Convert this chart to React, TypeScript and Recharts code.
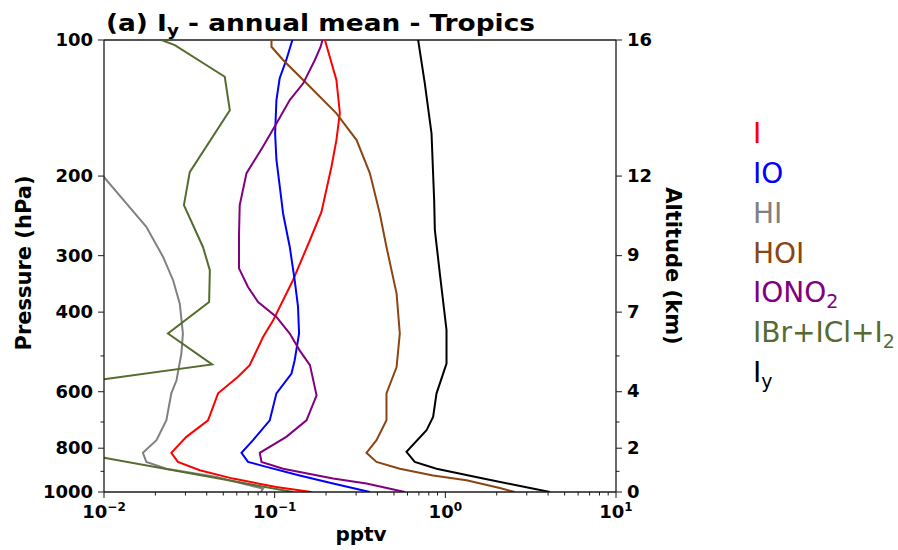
import React from "react";
import { ComposedChart, Line, XAxis, YAxis, ReferenceLine, Legend } from "recharts";

type Pt = { x: number; p: number };

// mixing ratio (pptv) against pressure (hPa)
const iodine: Pt[] = [
  { x: 0.197, p: 100 }, { x: 0.23, p: 122.6 }, { x: 0.241, p: 145 }, { x: 0.23, p: 166.5 },
  { x: 0.215, p: 191 }, { x: 0.188, p: 240 }, { x: 0.161, p: 277 }, { x: 0.128, p: 340 },
  { x: 0.098, p: 417 }, { x: 0.0855, p: 454 }, { x: 0.0714, p: 524 }, { x: 0.061, p: 556 },
  { x: 0.0466, p: 605 }, { x: 0.0407, p: 694 }, { x: 0.0304, p: 755 }, { x: 0.0248, p: 819 },
  { x: 0.0271, p: 858 }, { x: 0.0364, p: 895 }, { x: 0.057, p: 934 }, { x: 0.102, p: 975 },
  { x: 0.164, p: 1000 },
];

const iodineOxide: Pt[] = [
  { x: 0.127, p: 100 }, { x: 0.117, p: 110.7 }, { x: 0.107, p: 121.5 }, { x: 0.1024, p: 135.8 },
  { x: 0.1006, p: 161 }, { x: 0.1024, p: 184 }, { x: 0.1096, p: 226 }, { x: 0.112, p: 242 },
  { x: 0.1226, p: 287 }, { x: 0.131, p: 340 }, { x: 0.137, p: 389 }, { x: 0.139, p: 446 },
  { x: 0.131, p: 511 }, { x: 0.1255, p: 547 }, { x: 0.1024, p: 605 }, { x: 0.0936, p: 694 },
  { x: 0.0747, p: 768 }, { x: 0.0639, p: 819 }, { x: 0.0698, p: 858 }, { x: 0.0895, p: 880 },
  { x: 0.14, p: 919 }, { x: 0.22, p: 958 }, { x: 0.361, p: 1000 },
];

const hydrogenIodide: Pt[] = [
  { x: 0.0088, p: 190 }, { x: 0.0134, p: 229 }, { x: 0.0177, p: 259 }, { x: 0.0222, p: 302 },
  { x: 0.0254, p: 340 }, { x: 0.0278, p: 383 }, { x: 0.029, p: 446 }, { x: 0.0284, p: 494 },
  { x: 0.0266, p: 566 }, { x: 0.0248, p: 605 }, { x: 0.0232, p: 694 }, { x: 0.0203, p: 768 },
  { x: 0.0169, p: 819 }, { x: 0.0177, p: 858 }, { x: 0.0232, p: 888 }, { x: 0.0456, p: 926 },
  { x: 0.0855, p: 983 }, { x: 0.083, p: 1000 },
];

const hoi: Pt[] = [
  { x: 0.0958, p: 100 }, { x: 0.0958, p: 103.5 }, { x: 0.112, p: 110.7 }, { x: 0.1536, p: 124.7 },
  { x: 0.23, p: 145.3 }, { x: 0.302, p: 166.5 }, { x: 0.361, p: 197 }, { x: 0.395, p: 226 },
  { x: 0.413, p: 242 }, { x: 0.452, p: 287 }, { x: 0.518, p: 364 }, { x: 0.541, p: 446 },
  { x: 0.518, p: 529 }, { x: 0.452, p: 605 }, { x: 0.452, p: 694 }, { x: 0.395, p: 768 },
  { x: 0.345, p: 819 }, { x: 0.395, p: 858 }, { x: 0.541, p: 888 }, { x: 0.848, p: 919 },
  { x: 1.33, p: 942 }, { x: 2.085, p: 980 }, { x: 2.55, p: 1000 },
];

const iono2: Pt[] = [
  { x: 0.1905, p: 100 }, { x: 0.186, p: 103.5 }, { x: 0.172, p: 110.7 }, { x: 0.147, p: 124.7 },
  { x: 0.1226, p: 135.8 }, { x: 0.1024, p: 153 }, { x: 0.0855, p: 172 }, { x: 0.0684, p: 197 },
  { x: 0.0624, p: 232 }, { x: 0.0618, p: 270 }, { x: 0.0618, p: 320 }, { x: 0.0698, p: 352 },
  { x: 0.08, p: 380 }, { x: 0.1024, p: 410 }, { x: 0.1226, p: 446 }, { x: 0.14, p: 486 },
  { x: 0.161, p: 524 }, { x: 0.176, p: 611 }, { x: 0.1536, p: 694 }, { x: 0.117, p: 755 },
  { x: 0.0818, p: 819 }, { x: 0.0837, p: 858 }, { x: 0.112, p: 888 }, { x: 0.22, p: 934 },
  { x: 0.345, p: 958 }, { x: 0.579, p: 1000 },
];

const dihalogens: Pt[] = [
  { x: 0.0217, p: 100 }, { x: 0.026, p: 102.6 }, { x: 0.051, p: 120.6 }, { x: 0.0546, p: 143 },
  { x: 0.0318, p: 196 }, { x: 0.0294, p: 232 }, { x: 0.038, p: 287 }, { x: 0.0417, p: 323 },
  { x: 0.0413, p: 380 }, { x: 0.0237, p: 446 }, { x: 0.043, p: 522 }, { x: 0.003, p: 600 },
  { x: 0.0069, p: 819 }, { x: 0.128, p: 1000 },
];

const totalIy: Pt[] = [
  { x: 0.693, p: 100 }, { x: 0.758, p: 124.7 }, { x: 0.83, p: 161 }, { x: 0.86, p: 226 },
  { x: 0.868, p: 263 }, { x: 0.929, p: 329 }, { x: 1.016, p: 438 }, { x: 1.016, p: 520 },
  { x: 0.971, p: 547 }, { x: 0.888, p: 605 }, { x: 0.848, p: 682 }, { x: 0.776, p: 730 },
  { x: 0.592, p: 815 }, { x: 0.662, p: 858 }, { x: 0.888, p: 888 }, { x: 1.666, p: 934 },
  { x: 2.61, p: 966 }, { x: 4.1, p: 1000 },
];

const seriesData = [iodine, iodineOxide, hydrogenIodide, hoi, iono2, dihalogens, totalIy];
const seriesNames = ["I", "IO", "HI", "HOI", "IONO2", "IBr+ICl+I2", "Iy"];
const legendBase = ["I", "IO", "HI", "HOI", "IONO", "IBr+ICl+I", "I"];
const legendSub = ["", "", "", "", "2", "2", "y"];
const seriesColors = ["#ff0000", "#0000ff", "#808080", "#8b4513", "#800080", "#556b2f", "#000000"];

const xTicks = [
  0.01, 0.02, 0.03, 0.04, 0.05, 0.06, 0.07, 0.08, 0.09,
  0.1, 0.2, 0.3, 0.4, 0.5, 0.6, 0.7, 0.8, 0.9,
  1, 2, 3, 4, 5, 6, 7, 8, 9, 10,
];
const xMajorTicks = [0.01, 0.1, 1, 10];
const xMajorExponents = ["\u22122", "\u22121", "0", "1"];

const pressureTicks = [100, 200, 300, 400, 500, 600, 700, 800, 900, 1000];
const pressureLabels = ["100", "200", "300", "400", "", "600", "", "800", "", "1000"];
const altitudeLabels = ["16", "12", "9", "7", "", "4", "", "2", "", "0"];

const FONT = "'DejaVu Sans', sans-serif";
const AXIS = "#1a1a1a";

function PptvTick({ x, y, payload }: any) {
  const i = xMajorTicks.indexOf(payload.value);
  const major = i >= 0;
  return (
    <g>
      <line x1={x} x2={x} y1={y} y2={y + (major ? 6 : 3.5)} stroke={AXIS} strokeWidth={1} />
      {major && (
        <text x={x} y={y + 26} textAnchor="middle" fontFamily={FONT} fontWeight="bold" fontSize={18} fill="#000">
          <tspan>10</tspan>
          <tspan dy={-7} fontSize={12}>{xMajorExponents[i]}</tspan>
        </text>
      )}
    </g>
  );
}

function PressureTick({ x, y, payload }: any) {
  const label = pressureLabels[pressureTicks.indexOf(payload.value)];
  return (
    <g>
      <line x1={x} x2={x - (label ? 6 : 3.5)} y1={y} y2={y} stroke={AXIS} strokeWidth={1} />
      {label && (
        <text x={x - 11} y={y + 6} textAnchor="end" fontFamily={FONT} fontWeight="bold" fontSize={18} fill="#000">
          {label}
        </text>
      )}
    </g>
  );
}

function AltitudeTick({ x, y, payload }: any) {
  const label = altitudeLabels[pressureTicks.indexOf(payload.value)];
  return (
    <g>
      <line x1={x} x2={x + (label ? 6 : 3.5)} y1={y} y2={y} stroke={AXIS} strokeWidth={1} />
      {label && (
        <text x={x + 11} y={y + 5.5} textAnchor="start" fontFamily={FONT} fontWeight="bold" fontSize={18} fill="#000">
          {label}
        </text>
      )}
    </g>
  );
}

const renderTitle = () => (
  <text x={106} y={31} fontFamily={FONT} fontWeight="bold" fontSize={23} fill="#000"
    textLength={429} lengthAdjust="spacingAndGlyphs">
    <tspan>(a) I</tspan>
    <tspan dy={5} fontSize={16}>y</tspan>
    <tspan dy={-5}> - annual mean - Tropics</tspan>
  </text>
);

const renderLegend = () => (
  <svg width={153} height={300}>
    {legendBase.map((base, i) => (
      <text key={seriesNames[i]} x={8} y={43.3 + i * 39.75} fontFamily={FONT} fontSize={28} fill={seriesColors[i]}>
        <tspan>{base}</tspan>
        {legendSub[i] && (
          <tspan dy={6} fontSize={19}>{legendSub[i]}</tspan>
        )}
      </text>
    ))}
  </svg>
);

export default function App() {
  return (
    <div style={{ position: "absolute", left: 0, top: 0, width: 898, height: 550, background: "#fff" }}>
      <ComposedChart width={898} height={550} margin={{ top: 40, right: 222, bottom: 28, left: 44 }}>
        <XAxis
          type="number"
          dataKey="x"
          scale="log"
          domain={[0.01, 10]}
          allowDataOverflow
          ticks={xTicks}
          interval={0}
          height={30}
          tickSize={0}
          tickMargin={0}
          tickLine={false}
          axisLine={{ stroke: AXIS, strokeWidth: 1.3 }}
          tick={<PptvTick />}
          label={() => (
            <text x={361} y={541} textAnchor="middle" fontFamily={FONT} fontWeight="bold" fontSize={20} fill="#000">
              pptv
            </text>
          )}
        />
        <YAxis
          yAxisId="p"
          type="number"
          dataKey="p"
          scale="log"
          domain={[100, 1000]}
          allowDataOverflow
          reversed
          ticks={pressureTicks}
          interval={0}
          width={60}
          tickSize={0}
          tickMargin={0}
          tickLine={false}
          axisLine={{ stroke: AXIS, strokeWidth: 1.3 }}
          tick={<PressureTick />}
          label={() => (
            <text x={31} y={263} transform="rotate(-90 31 263)" textAnchor="middle" fontFamily={FONT}
              fontWeight="bold" fontSize={21} fill="#000">
              Pressure (hPa)
            </text>
          )}
        />
        <YAxis
          yAxisId="alt"
          orientation="right"
          type="number"
          scale="log"
          domain={[100, 1000]}
          allowDataOverflow
          reversed
          ticks={pressureTicks}
          interval={0}
          width={60}
          tickSize={0}
          tickMargin={0}
          tickLine={false}
          axisLine={{ stroke: AXIS, strokeWidth: 1.3 }}
          tick={<AltitudeTick />}
          label={() => (
            <text x={666} y={266} transform="rotate(90 666 266)" textAnchor="middle" fontFamily={FONT}
              fontWeight="bold" fontSize={21} fill="#000">
              Altitude (km)
            </text>
          )}
        />
        <ReferenceLine yAxisId="p" y={100} stroke={AXIS} strokeWidth={1.3} label={renderTitle} />
        {seriesData.map((data, i) => (
          <Line
            key={seriesNames[i]}
            yAxisId="p"
            data={data}
            dataKey="p"
            name={seriesNames[i]}
            stroke={seriesColors[i]}
            strokeWidth={2}
            dot={false}
            activeDot={false}
            isAnimationActive={false}
          />
        ))}
        <Legend
          layout="vertical"
          align="center"
          verticalAlign="middle"
          content={renderLegend}
          wrapperStyle={{ position: "absolute", left: 745, top: 100, width: 153, height: 300 }}
        />
      </ComposedChart>
    </div>
  );
}
